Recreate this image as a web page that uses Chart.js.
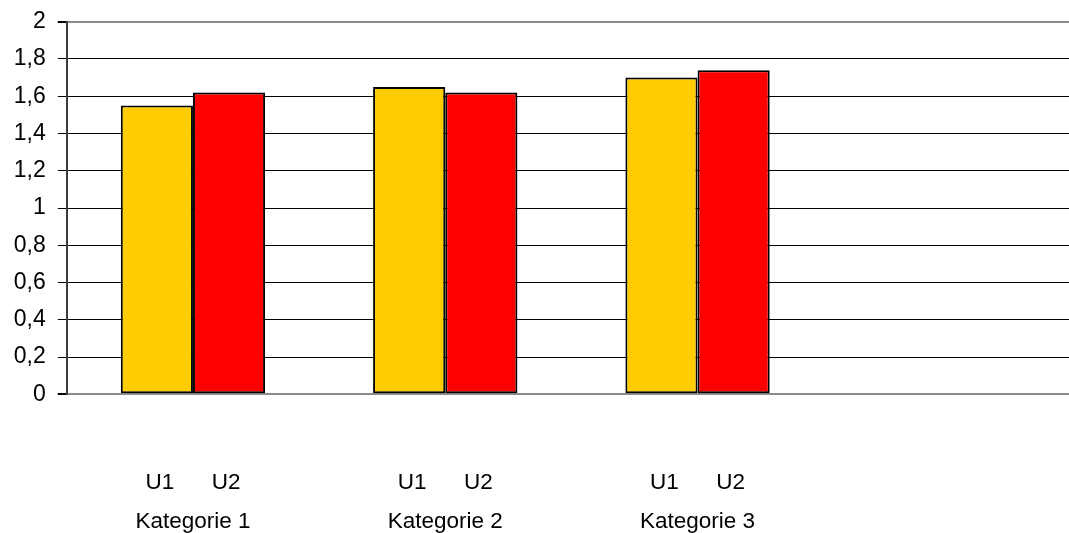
<!DOCTYPE html>
<html>
<head>
<meta charset="utf-8">
<script src="https://cdn.jsdelivr.net/npm/chart.js@4/dist/chart.umd.min.js"></script>
<style>
  html, body { margin: 0; padding: 0; background: #fff; overflow: hidden; }
  #wrap { position: relative; width: 1080px; height: 533px; }
</style>
</head>
<body>
<div id="wrap"><canvas id="c"></canvas></div>
<script>
// Categories (the fourth slot is left empty, as in the workbook)
const categories = ['Kategorie 1', 'Kategorie 2', 'Kategorie 3', ''];
const seriesNames = ['U1', 'U2'];
const u1Values = [1.55, 1.65, 1.70, null];
const u2Values = [1.62, 1.62, 1.74, null];
const yMin = 0;
const yMax = 2;
const yStep = 0.2;

const FONT = 'Liberation Sans, Arial, Helvetica, sans-serif';
const seriesLine = seriesNames.join('      ');
const xLabels = categories.map(c => c ? [seriesLine, c] : '');

const fmt = v => Number(v.toFixed(1)).toString().replace('.', ',');
const isEdge = ctx => ctx.tick && (Math.abs(ctx.tick.value - yMin) < 1e-9 || Math.abs(ctx.tick.value - yMax) < 1e-9);

new Chart(document.getElementById('c'), {
  type: 'bar',
  data: {
    labels: xLabels,
    datasets: [
      {
        label: seriesNames[0],
        data: u1Values,
        backgroundColor: '#FFCC00',
        borderColor: '#000000',
        borderWidth: 2,
        borderSkipped: false
      },
      {
        label: seriesNames[1],
        data: u2Values,
        backgroundColor: '#FF0000',
        borderColor: '#000000',
        borderWidth: 2,
        borderSkipped: false
      }
    ]
  },
  options: {
    responsive: true,
    maintainAspectRatio: false,
    animation: false,
    layout: { padding: { top: 21.7, right: 4, left: 0, bottom: 0 } },
    datasets: { bar: { categoryPercentage: 0.572, barPercentage: 1.0 } },
    plugins: { legend: { display: false }, tooltip: { enabled: false } },
    scales: {
      x: {
        grid: { display: false, drawTicks: false },
        border: { display: false },
        ticks: {
          autoSkip: false,
          maxRotation: 0,
          minRotation: 0,
          padding: 69.5,
          color: '#000',
          font: { family: FONT, size: 22.5, lineHeight: 38.5 / 22.5 }
        },
        afterFit: s => { s.height = 138.7; }
      },
      y: {
        min: yMin,
        max: yMax,
        border: { display: true, color: '#3c3c3c', width: 2 },
        grid: {
          color: ctx => isEdge(ctx) ? '#8c8c8c' : '#000',
          lineWidth: ctx => isEdge(ctx) ? 2 : 1,
          tickColor: '#000',
          tickLength: 9,
          drawTicks: true
        },
        ticks: {
          stepSize: yStep,
          padding: 12,
          color: '#000',
          font: { family: FONT, size: 23 },
          callback: v => fmt(v)
        },
        afterFit: s => { s.width = 66.8; s.paddingTop = 0; s.paddingBottom = 0; }
      }
    }
  }
});
</script>
</body>
</html>
